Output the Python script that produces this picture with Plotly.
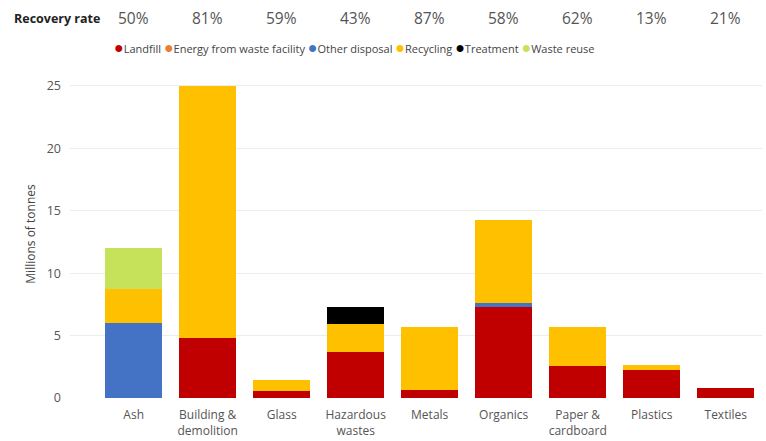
import plotly.graph_objects as go

categories = ["Ash", "Building &<br>demolition", "Glass", "Hazardous<br>wastes", "Metals",
              "Organics", "Paper &<br>cardboard", "Plastics", "Textiles"]
landfill = [0, 4.8, 0.55, 3.7, 0.65, 7.3, 2.55, 2.25, 0.8]
energy = [0, 0, 0, 0, 0, 0, 0, 0, 0]
other_disposal = [6.0, 0, 0, 0, 0, 0.3, 0, 0, 0]
recycling = [2.7, 20.2, 0.9, 2.2, 5.05, 6.7, 3.15, 0.4, 0]
treatment = [0, 0, 0, 1.4, 0, 0, 0, 0, 0]
waste_reuse = [3.3, 0, 0, 0, 0, 0, 0, 0, 0]
recovery_rate = ["50%", "81%", "59%", "43%", "87%", "58%", "62%", "13%", "21%"]

series = [
    ("Landfill", landfill, "#C00000"),
    ("Energy from waste facility", energy, "#ED7D31"),
    ("Other disposal", other_disposal, "#4472C4"),
    ("Recycling", recycling, "#FFC000"),
    ("Treatment", treatment, "#000000"),
    ("Waste reuse", waste_reuse, "#C6E25A"),
]

FONT = "Segoe UI, Open Sans, Noto Sans, sans-serif"

fig = go.Figure()
for name, vals, col in series:
    fig.add_trace(go.Bar(x=categories, y=vals, name=name, marker=dict(color=col, line=dict(width=0)),
                         showlegend=False))

# legend as a compact annotation row
legend_txt = " ".join(f"<span style='color:{c};font-size:16px'>●</span>{n}" for n, _, c in series)
annotations = [dict(x=112, y=47, xref="paper", yref="paper", text=legend_txt, showarrow=False,
                    xanchor="left", yanchor="middle", font=dict(size=11, color="#444", family=FONT))]
# recovery rate header
annotations.append(dict(x=12, y=18, xref="paper", yref="paper", text="<b>Recovery rate</b>",
                        showarrow=False, xanchor="left", yanchor="middle",
                        font=dict(size=12.5, color="#222", family=FONT)))
for c, r in zip(categories, recovery_rate):
    annotations.append(dict(x=c, y=18, xref="x", yref="paper", text=r, showarrow=False,
                            xanchor="center", yanchor="middle",
                            font=dict(size=15.5, color="#555", family=FONT)))

W, H = 766, 441
L, R, T, B = 70, 4, 70, 43
pw, ph = W - L - R, H - T - B
# convert pixel positions to paper coordinates
for a in annotations:
    if a["yref"] == "paper":
        a["y"] = (H - B - a["y"]) / ph
    if a["xref"] == "paper" and a["x"] > 1:
        a["x"] = (a["x"] - L) / pw

fig.update_layout(
    barmode="stack",
    bargap=0.23,
    width=W, height=H,
    margin=dict(l=L, r=R, t=T, b=B, autoexpand=False),
    plot_bgcolor="white", paper_bgcolor="white",
    font=dict(family=FONT, color="#555", size=12),
    annotations=annotations,
    xaxis=dict(range=[-0.86, 8.49], showgrid=False, showline=False, ticks="", automargin=False,
               tickfont=dict(size=12, color="#555"), ticklabelstandoff=8),
    yaxis=dict(range=[0, 26.28], tickvals=[0, 5, 10, 15, 20, 25], showgrid=True, automargin=False,
               gridcolor="#ececec", gridwidth=1, zeroline=False, showline=False,
               tickfont=dict(size=12.5, color="#555"), ticklabelstandoff=8,
               title=dict(text="Millions of tonnes", font=dict(size=12, color="#444"), standoff=8)),
)
fig.write_html("out.html", config={"displayModeBar": False},
               post_script="document.body.style.margin='0';document.body.style.overflow='hidden';")
